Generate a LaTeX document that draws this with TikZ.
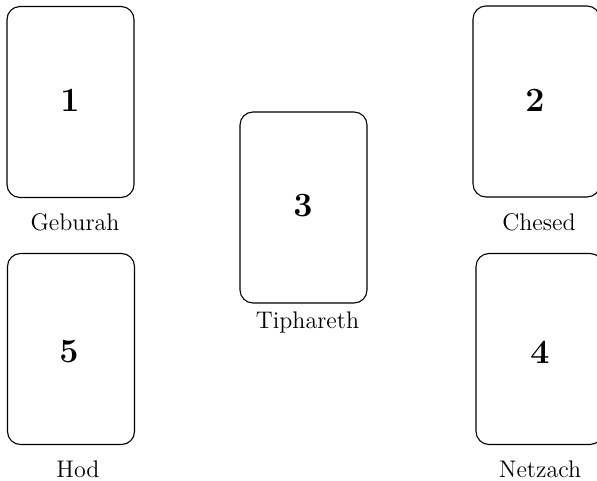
\documentclass[tikz,border=0pt]{standalone}
\usepackage{amsmath}
\usepackage{tikz}
\usetikzlibrary{positioning}

\begin{document}
\begin{tikzpicture}[x=0.5pt,y=-0.5pt,
                card/.style={draw, line width=0.55pt, rounded corners=6.5pt, minimum width=63.5pt, minimum height=95.5pt, inner sep=0pt},
                cardnum/.style={font=\fontsize{17}{20}\selectfont\bfseries},
                sephira/.style={font=\fontsize{12}{14}\selectfont}]
                \useasboundingbox (0,0) rectangle (597,480);
                \clip (0,0) rectangle (597,480);
                \node[card] (card1) at (70.5,102) {};
                \node[card] (card2) at (536.5,101.5) {};
                \node[card] (card3) at (303.5,207.5) {};
                \node[card] (card5) at (71,349) {};
                \node[card] (card4) at (539.5,349) {};
                \node[cardnum] (num1) at (70,100) {1};
                \node[cardnum] (num2) at (535,100) {2};
                \node[cardnum] (num3) at (303,206) {3};
                \node[cardnum] (num5) at (69,352) {5};
                \node[cardnum] (num4) at (540,352) {4};
                \node[sephira] (geburah) at (75,222) {Geburah};
                \node[sephira] (chesed) at (539,222) {Chesed};
                \node[sephira] (tiphareth) at (307.5,322) {Tiphareth};
                \node[sephira] (hod) at (78,469) {Hod};
                \node[sephira] (netzach) at (540,469) {Netzach};
\end{tikzpicture}
\end{document}
